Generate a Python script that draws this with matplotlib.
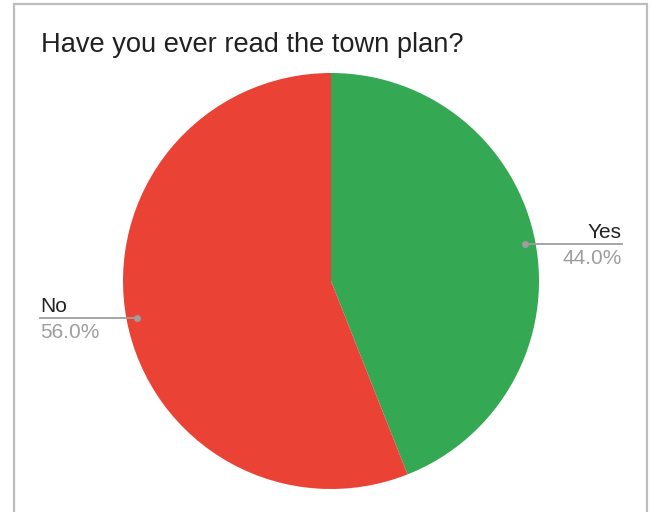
import numpy as np
import matplotlib.pyplot as plt
from matplotlib.patches import Rectangle

plt.rcParams['font.family'] = ['Liberation Sans', 'DejaVu Sans']

title = "Have you ever read the town plan?"
labels = ["Yes", "No"]
values = [44.0, 56.0]
colors = ["#34a853", "#ea4335"]

W, H = 651, 512
fig = plt.figure(figsize=(W / 100, H / 100), dpi=100)

# chart frame (bottom edge falls outside the image)
fig.patches.append(Rectangle((14 / W, -0.05), 633 / W, 508 / H + 0.05,
                             transform=fig.transFigure, fill=False,
                             edgecolor="#bdbdbd", linewidth=1.6))

fig.text(41 / W, 1 - 52 / H, title, fontsize=19.6, color="#212121",
         ha="left", va="baseline")

# pie axes: centre (331, 281), radius 208 px
cx, cy, r = 331, 281, 208
ax = fig.add_axes([(cx - r) / W, (H - cy - r) / H, 2 * r / W, 2 * r / H])
ax.pie(values, colors=colors, startangle=90, counterclock=False,
       radius=1, wedgeprops=dict(linewidth=0))
ax.set_xlim(-1, 1)
ax.set_ylim(-1, 1)
ax.set_aspect("equal")
ax.axis("off")

# leader lines and labels
px = 1 / r
total = sum(values)
start = 90.0
for lab, val in zip(labels, values):
    mid = np.deg2rad(start - val / total * 360 / 2)
    start -= val / total * 360
    x0, y0 = 0.95 * np.cos(mid), 0.95 * np.sin(mid)
    side = 1 if x0 > 0 else -1
    x1 = side * 291 * px
    ax.plot([x0, x1], [y0, y0], color="#9e9e9e", lw=1.3, clip_on=False)
    ax.plot([x0], [y0], "o", color="#9e9e9e", ms=4, clip_on=False)
    ha = "right" if side > 0 else "left"
    ax.text(x1, y0 + 6 * px, lab, fontsize=15, color="#222222",
            ha=ha, va="baseline")
    ax.text(x1, y0 - 20 * px, f"{val:.1f}%", fontsize=15, color="#9e9e9e",
            ha=ha, va="baseline")

fig.savefig("out.png", dpi=100)
